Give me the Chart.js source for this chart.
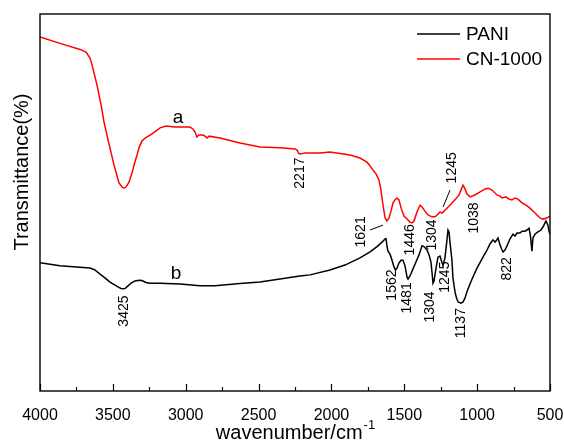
<!DOCTYPE html>
<html lang="en">
<head>
<meta charset="UTF-8">
<title>FTIR PANI / CN-1000</title>
<script src="https://cdn.jsdelivr.net/npm/chart.js"></script>
<style>
  body { margin: 0; background: #fff; }
  #box { width: 564px; height: 441px; }
</style>
</head>
<body>
<div id="box"><canvas id="grafico" width="564" height="441"></canvas></div>
<script>
// series names
const seriesNames = ['PANI', 'CN-1000'];

// x axis ticks (wavenumber, cm-1)
const xTicks = [4000, 3500, 3000, 2500, 2000, 1500, 1000, 500];

// curve a : CN-1000 (red)
const redWave = [4000, 3863, 3725, 3684, 3657, 3643, 3609, 3581, 3561, 3533, 3492, 3458, 3437, 3424, 3410, 3389,
  3369, 3355, 3334, 3321, 3300, 3279, 3231, 3176, 3135, 3074, 2971, 2951, 2936, 2923, 2909, 2881, 2868, 2854, 2840,
  2765, 2627, 2490, 2353, 2250, 2236, 2223, 2209, 2181, 2078, 2010, 1873, 1804, 1756, 1735, 1715, 1694, 1674, 1660,
  1646, 1632, 1619, 1605, 1591, 1577, 1564, 1550, 1536, 1522, 1502, 1481, 1461, 1447, 1433, 1413, 1392, 1378, 1358,
  1337, 1310, 1289, 1269, 1255, 1241, 1227, 1207, 1179, 1152, 1124, 1111, 1097, 1083, 1070, 1049, 1015, 980, 946,
  925, 898, 864, 843, 829, 802, 781, 761, 740, 720, 692, 665, 637, 610, 589, 569, 548, 521, 500];
const redT = [93.9, 92.2, 90.6, 89.9, 88.3, 86.5, 81.2, 75.9, 71.4, 66.6, 59.9, 55.2, 54.1, 53.8, 54.1, 55.4,
  57.8, 59.9, 62.6, 64.5, 66.3, 67.1, 68.2, 69.8, 70.3, 70.0, 70.0, 69.5, 68.7, 67.4, 67.9, 67.9, 67.6, 67.1, 67.6,
  67.1, 65.8, 64.7, 64.5, 64.2, 63.9, 62.9, 62.9, 63.1, 63.1, 63.4, 62.6, 61.8, 60.7, 59.7, 58.6, 57.6, 56.0, 53.3,
  49.3, 45.9, 45.1, 45.9, 47.7, 49.9, 50.7, 51.2, 50.7, 48.5, 46.4, 45.6, 44.8, 44.6, 45.1, 47.5, 49.3, 48.8, 47.7,
  46.7, 46.2, 46.2, 46.9, 47.5, 47.2, 47.7, 48.5, 49.6, 50.7, 52.0, 53.3, 54.6, 53.6, 52.3, 51.5, 52.0, 52.8, 53.6,
  53.8, 53.3, 52.0, 51.7, 51.2, 51.5, 50.9, 50.7, 51.2, 50.9, 49.9, 49.3, 48.5, 47.5, 46.7, 45.9, 45.6, 45.9, 46.4];

// curve b : PANI (black)
const blackWave = [4000, 3863, 3657, 3623, 3588, 3554, 3520, 3485, 3465, 3444, 3430, 3417, 3396, 3375, 3348, 3321,
  3300, 3273, 3245, 3176, 3039, 2902, 2799, 2627, 2490, 2353, 2216, 2147, 2010, 1907, 1804, 1735, 1687, 1653, 1632,
  1626, 1619, 1612, 1598, 1584, 1571, 1560, 1550, 1536, 1522, 1509, 1495, 1481, 1474, 1461, 1440, 1420, 1399, 1378,
  1365, 1344, 1330, 1317, 1310, 1303, 1296, 1282, 1269, 1255, 1241, 1234, 1221, 1207, 1200, 1193, 1186, 1173, 1166,
  1152, 1142, 1131, 1111, 1097, 1083, 1070, 1049, 1035, 1001, 960, 932, 912, 891, 877, 864, 857, 843, 829, 822, 809,
  795, 775, 754, 740, 727, 706, 692, 672, 658, 644, 634, 624, 617, 603, 583, 562, 548, 528, 514, 507, 500];
const blackT = [34.0, 33.2, 32.6, 32.1, 31.0, 30.0, 28.9, 28.1, 27.6, 27.2, 27.1, 27.2, 27.9, 28.6, 29.2, 29.4,
  29.3, 28.8, 28.6, 28.6, 28.4, 27.9, 27.9, 28.5, 28.9, 29.7, 30.5, 30.8, 32.1, 33.4, 35.3, 36.9, 38.3, 39.5, 40.3,
  40.6, 38.5, 37.1, 36.3, 34.7, 32.9, 32.1, 32.6, 34.0, 34.7, 34.7, 33.2, 30.2, 29.7, 30.5, 32.4, 34.2, 36.1, 38.5,
  38.3, 37.4, 36.1, 34.2, 31.6, 28.6, 29.2, 32.6, 35.5, 35.8, 34.0, 33.4, 35.3, 40.1, 42.7, 42.2, 39.3, 34.7, 30.0,
  26.3, 24.7, 23.6, 23.3, 23.6, 24.7, 26.3, 28.4, 29.7, 32.6, 35.5, 37.4, 39.0, 40.1, 39.5, 40.1, 40.6, 38.7, 37.4, 36.9, 37.4,
  38.5, 40.3, 41.6, 41.1, 41.9, 41.9, 42.4, 42.4, 42.7, 43.2, 41.1, 37.1, 40.6, 41.6, 42.2, 42.7, 43.5, 45.1, 44.0, 42.4, 41.6];

// peak labels written on the picture
const redPeaks = ['2217', '1621', '1446', '1304', '1245', '1038'];
const blackPeaks = ['3425', '1562', '1481', '1304', '1245', '1137', '822'];
const curveLetters = ['a', 'b'];

const FONTE = '"Liberation Sans", Arial, sans-serif';

function pontos(xs, ys) {
    return xs.map(function (x, i) { return { x: x, y: ys[i] }; });
}

// where the rotated labels sit, in data units (wavenumber, value)
const posRed = [[2216, 57.8], [1797, 42.2], [1461, 40.1], [1310, 41.4], [1173, 59.2], [1022, 45.9]];
const posBlack = [[3424, 21.2], [1584, 28.1], [1481, 24.7], [1324, 22.3], [1221, 30.2], [1111, 18.0], [795, 32.4]];
const posLetters = [[3053, 72.4], [3067, 31.0]];
// little leader lines for the red 1621 and 1245 labels
const leaders = [[[1735, 42.7], [1646, 44.0]], [[1234, 48.8], [1186, 53.3]]];

const enfeites = {
    id: 'enfeites',
    afterDraw: function (chart) {
        const ctx = chart.ctx;
        const a = chart.chartArea;
        const sx = chart.scales.x;
        const sy = chart.scales.y;
        ctx.save();

        // frame
        ctx.strokeStyle = '#000';
        ctx.lineWidth = 1.4;
        ctx.strokeRect(a.left, a.top, a.right - a.left, a.bottom - a.top);

        // inward ticks on bottom axis
        ctx.lineWidth = 1.2;
        for (let w = 500; w <= 4000; w += 250) {
            const px = Math.round(sx.getPixelForValue(w)) + 0.5;
            const len = (w % 500 === 0) ? 7 : 4;
            ctx.beginPath();
            ctx.moveTo(px, a.bottom);
            ctx.lineTo(px, a.bottom - len);
            ctx.stroke();
        }

        // y title
        ctx.fillStyle = '#000';
        ctx.font = '20px ' + FONTE;
        ctx.textAlign = 'center';
        ctx.textBaseline = 'middle';
        ctx.save();
        ctx.translate(22, 172);
        ctx.rotate(-Math.PI / 2);
        ctx.fillText('Transmittance(%)', 0, 0);
        ctx.restore();

        // x title with superscript
        const main = 'wavenumber/cm';
        ctx.font = '20px ' + FONTE;
        const wMain = ctx.measureText(main).width;
        ctx.font = '13px ' + FONTE;
        const wSup = ctx.measureText('-1').width;
        const x0 = (a.left + a.right) / 2 - (wMain + wSup) / 2;
        ctx.textAlign = 'left';
        ctx.textBaseline = 'alphabetic';
        ctx.font = '20px ' + FONTE;
        ctx.fillText(main, x0, 439);
        ctx.font = '13px ' + FONTE;
        ctx.fillText('-1', x0 + wMain + 1, 429);

        // legend
        const cores = ['#000000', '#ff0000'];
        ctx.font = '19px ' + FONTE;
        ctx.textBaseline = 'middle';
        seriesNames.forEach(function (nome, i) {
            const ly = 34 + i * 25;
            ctx.strokeStyle = cores[i];
            ctx.lineWidth = 1.5;
            ctx.beginPath();
            ctx.moveTo(417, ly);
            ctx.lineTo(460, ly);
            ctx.stroke();
            ctx.fillStyle = '#000';
            ctx.fillText(nome, 466, ly + 1);
        });

        // curve letters
        ctx.textAlign = 'center';
        ctx.font = '19px ' + FONTE;
        curveLetters.forEach(function (t, i) {
            ctx.fillText(t, sx.getPixelForValue(posLetters[i][0]), sy.getPixelForValue(posLetters[i][1]));
        });

        // rotated peak labels
        ctx.font = '14px ' + FONTE;
        function rotulo(t, p) {
            ctx.save();
            ctx.translate(sx.getPixelForValue(p[0]), sy.getPixelForValue(p[1]));
            ctx.rotate(-Math.PI / 2);
            ctx.fillText(t, 0, 0);
            ctx.restore();
        }
        redPeaks.forEach(function (t, i) { rotulo(t, posRed[i]); });
        blackPeaks.forEach(function (t, i) { rotulo(t, posBlack[i]); });

        // leader lines
        ctx.strokeStyle = '#000';
        ctx.lineWidth = 1;
        leaders.forEach(function (l) {
            ctx.beginPath();
            ctx.moveTo(sx.getPixelForValue(l[0][0]), sy.getPixelForValue(l[0][1]));
            ctx.lineTo(sx.getPixelForValue(l[1][0]), sy.getPixelForValue(l[1][1]));
            ctx.stroke();
        });

        ctx.restore();
    }
};

const config = {
    type: 'scatter',
    data: {
        datasets: [{
            label: seriesNames[0],
            data: pontos(blackWave, blackT),
            borderColor: '#000000',
            borderWidth: 1.5,
            showLine: true,
            pointRadius: 0,
            tension: 0
        }, {
            label: seriesNames[1],
            data: pontos(redWave, redT),
            borderColor: '#ff0000',
            borderWidth: 1.5,
            showLine: true,
            pointRadius: 0,
            tension: 0
        }]
    },
    options: {
        responsive: false,
        animation: false,
        layout: { padding: { left: 40, right: 14, top: 14, bottom: 0 } },
        plugins: {
            legend: { display: false },
            tooltip: { enabled: false }
        },
        scales: {
            x: {
                type: 'linear',
                reverse: true,
                min: 500,
                max: 4000,
                afterBuildTicks: function (s) { s.ticks = xTicks.map(function (v) { return { value: v }; }); },
                afterFit: function (s) {
                    s.height = 50;
                    s.paddingLeft = 0;
                    s.paddingRight = 0;
                },
                ticks: {
                    color: '#000',
                    font: { family: FONTE, size: 16 },
                    padding: 7,
                    maxRotation: 0,
                    autoSkip: false,
                    callback: function (v) { return String(v); }
                },
                grid: { display: false },
                border: { display: false }
            },
            y: {
                display: false,
                min: 0,
                max: 100
            }
        }
    },
    plugins: [enfeites]
};

new Chart(document.getElementById('grafico'), config);
</script>
</body>
</html>
